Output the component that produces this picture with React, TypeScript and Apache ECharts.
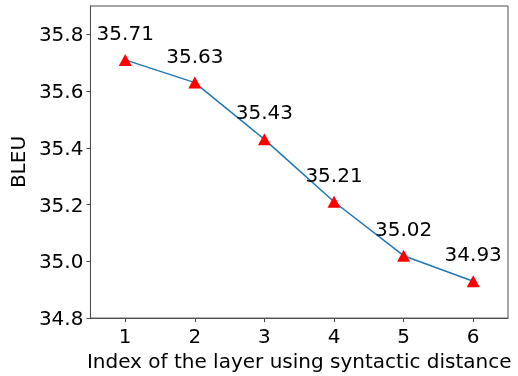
import React, { useEffect, useRef } from "react";
import * as echarts from "echarts";

const layers = [1, 2, 3, 4, 5, 6];
const bleu = [35.71, 35.63, 35.43, 35.21, 35.02, 34.93];
const yTicks = [34.8, 35.0, 35.2, 35.4, 35.6, 35.8];
const xName = "Index of the layer using syntactic distance";
const yName = "BLEU";

const FONT = "DejaVu Sans";

export default function App() {
  const ref = useRef<HTMLDivElement>(null);
  useEffect(() => {
    if (!ref.current) return;
    const chart = echarts.init(ref.current, undefined, { renderer: "svg" });
    const axisColor = "#4d4d4d";
    chart.setOption({
      animation: false,
      grid: {
        left: 87,
        right: 10,
        top: 6,
        bottom: 52,
        show: true,
        borderColor: axisColor,
        borderWidth: 1,
        containLabel: false,
      },
      xAxis: {
        type: "value",
        min: 0.5,
        max: 6.5,
        name: xName,
        nameLocation: "middle",
        nameGap: 32,
        nameTextStyle: { fontFamily: FONT, fontSize: 20, color: "#000" },
        axisLine: { show: true, lineStyle: { color: axisColor, width: 1 } },
        axisTick: {
          show: true,
          length: 4,
          lineStyle: { color: axisColor },
          customValues: layers,
        },
        axisLabel: {
          fontFamily: FONT,
          fontSize: 20,
          color: "#000",
          margin: 8,
          customValues: layers,
          formatter: (v: number) => String(v),
        },
        splitLine: { show: false },
      },
      yAxis: {
        type: "value",
        min: 34.8,
        max: 35.9,
        name: yName,
        nameLocation: "middle",
        nameGap: 62,
        nameRotate: 90,
        nameTextStyle: { fontFamily: FONT, fontSize: 20, color: "#000" },
        axisLine: { show: true, lineStyle: { color: axisColor, width: 1 } },
        axisTick: {
          show: true,
          length: 4,
          lineStyle: { color: axisColor },
          customValues: yTicks,
        },
        axisLabel: {
          fontFamily: FONT,
          fontSize: 20,
          color: "#000",
          margin: 7,
          customValues: yTicks,
          formatter: (v: number) => v.toFixed(1),
        },
        splitLine: { show: false },
      },
      series: [
        {
          type: "line",
          data: layers.map((x, i) => [x, bleu[i]]),
          lineStyle: { color: "#1f77b4", width: 1.5 },
          itemStyle: { color: "#ff0000" },
          symbol: "triangle",
          symbolSize: [13, 12],
          label: {
            show: true,
            position: "top",
            distance: 11,
            fontFamily: FONT,
            fontSize: 20,
            color: "#000",
            formatter: (p: any) => p.value[1].toFixed(2),
          },
        },
      ],
    });
    return () => chart.dispose();
  }, []);
  return (
    <div
      ref={ref}
      style={{ position: "fixed", left: 0, top: 0, width: 518, height: 376 }}
    />
  );
}
